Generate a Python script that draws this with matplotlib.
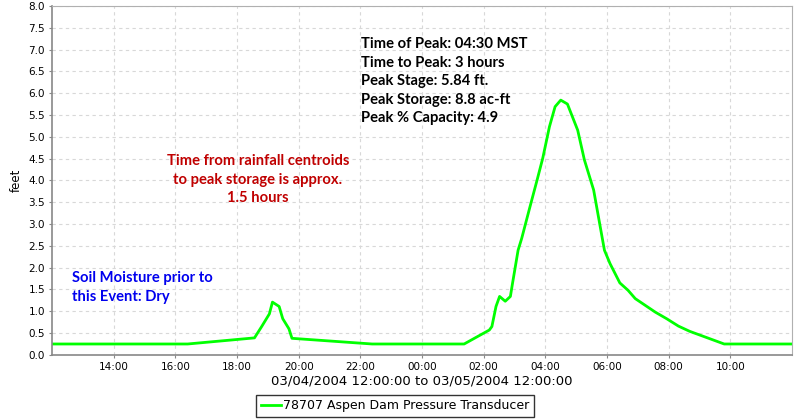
import matplotlib
matplotlib.use("Agg")
import matplotlib.pyplot as plt
import matplotlib.dates as mdates
import pandas as pd

# stage readings, 03/04/2004 12:00 to 03/05/2004 12:00
times = [
    "2004-03-04 12:00", "2004-03-04 13:25", "2004-03-04 16:24", "2004-03-04 18:34",
    "2004-03-04 18:48", "2004-03-04 19:03", "2004-03-04 19:09", "2004-03-04 19:22",
    "2004-03-04 19:29", "2004-03-04 19:41", "2004-03-04 19:47", "2004-03-04 22:23",
    "2004-03-05 01:22", "2004-03-05 02:11", "2004-03-05 02:16", "2004-03-05 02:24",
    "2004-03-05 02:31", "2004-03-05 02:42", "2004-03-05 02:52", "2004-03-05 02:56",
    "2004-03-05 03:07", "2004-03-05 03:14", "2004-03-05 03:30", "2004-03-05 03:44",
    "2004-03-05 03:55", "2004-03-05 04:08", "2004-03-05 04:19", "2004-03-05 04:30",
    "2004-03-05 04:43", "2004-03-05 05:03", "2004-03-05 05:16", "2004-03-05 05:34",
    "2004-03-05 05:55", "2004-03-05 06:06", "2004-03-05 06:25", "2004-03-05 06:41",
    "2004-03-05 06:55", "2004-03-05 07:34", "2004-03-05 07:56", "2004-03-05 08:19",
    "2004-03-05 08:41", "2004-03-05 09:48", "2004-03-05 10:24", "2004-03-05 12:00",
]
stage = [
    0.25, 0.25, 0.25, 0.39, 0.65, 0.94, 1.21, 1.11, 0.83, 0.60, 0.38, 0.25,
    0.25, 0.57, 0.65, 1.11, 1.34, 1.23, 1.34, 1.63, 2.40, 2.67, 3.39, 4.01,
    4.51, 5.23, 5.69, 5.84, 5.75, 5.15, 4.47, 3.78, 2.40, 2.09, 1.65, 1.48,
    1.29, 0.98, 0.83, 0.66, 0.54, 0.25, 0.25, 0.25,
]
series_name = "78707 Aspen Dam Pressure Transducer"
x_title = "03/04/2004 12:00:00 to 03/05/2004 12:00:00"
peak_info = [
    "Time of Peak: 04:30 MST",
    "Time to Peak: 3 hours",
    "Peak Stage: 5.84 ft.",
    "Peak Storage: 8.8 ac-ft",
    "Peak % Capacity: 4.9",
]
centroid_note = ["Time from rainfall centroids", "to peak storage is approx.", "1.5 hours"]
soil_note = ["Soil Moisture prior to", "this Event: Dry"]

t = pd.to_datetime(times)
t_start = pd.Timestamp("2004-03-04 12:00")
t_end = pd.Timestamp("2004-03-05 12:00")

fig = plt.figure(figsize=(8, 4.2), dpi=100)
ax = fig.add_axes([0.065, 0.155, 0.925, 0.831])

ax.plot(t, stage, color="#00ff00", lw=2, label=series_name)

ax.set_xlim(t_start, t_end)
ax.set_ylim(0, 8)
ax.set_yticks([i * 0.5 for i in range(17)])
ax.yaxis.set_major_formatter(matplotlib.ticker.FormatStrFormatter("%.1f"))
ax.xaxis.set_major_locator(mdates.HourLocator(byhour=range(0, 24, 2)))
ax.xaxis.set_major_formatter(mdates.DateFormatter("%H:%M"))
# hide the 12:00 labels at the two ends
ax.set_xticks([tk for tk in ax.get_xticks() if t_start < mdates.num2date(tk).replace(tzinfo=None) < t_end])

ax.grid(True, color="#d8d8d8", ls=(0, (3, 3)), lw=0.8)
ax.tick_params(labelsize=7.5, length=2, color="#888888", pad=3)
for s in ["left", "bottom"]:
    ax.spines[s].set_color("#888888")
    ax.spines[s].set_linewidth(1.2)
for s in ["top", "right"]:
    ax.spines[s].set_color("#b0b0b0")
    ax.spines[s].set_linewidth(0.8)

ax.set_ylabel("feet", fontsize=8.5, labelpad=4)
ax.set_xlabel(x_title, fontsize=9.5, labelpad=2)

bold = dict(family=["Lato", "DejaVu Sans"], fontweight="bold", fontsize=10.6)
fig.text(361 / 800, 1 - 37 / 420, "\n".join(peak_info), ha="left", va="top",
         color="black", linespacing=1.42, **bold)
fig.text(258 / 800, 1 - 154 / 420, "\n".join(centroid_note), ha="center", va="top",
         color="#c00000", linespacing=1.42, multialignment="center", **bold)
fig.text(72 / 800, 1 - 271 / 420, "\n".join(soil_note), ha="left", va="top",
         color="#0000ee", linespacing=1.42, **bold)

leg = fig.legend(loc="center", bbox_to_anchor=(395 / 800, 1 - 406 / 420), fontsize=9,
                 frameon=True, fancybox=False, edgecolor="black", handlelength=1.6,
                 handletextpad=0.2, borderpad=0.35, borderaxespad=0)
leg.get_frame().set_linewidth(1.0)

fig.savefig("out.png", dpi=100)
